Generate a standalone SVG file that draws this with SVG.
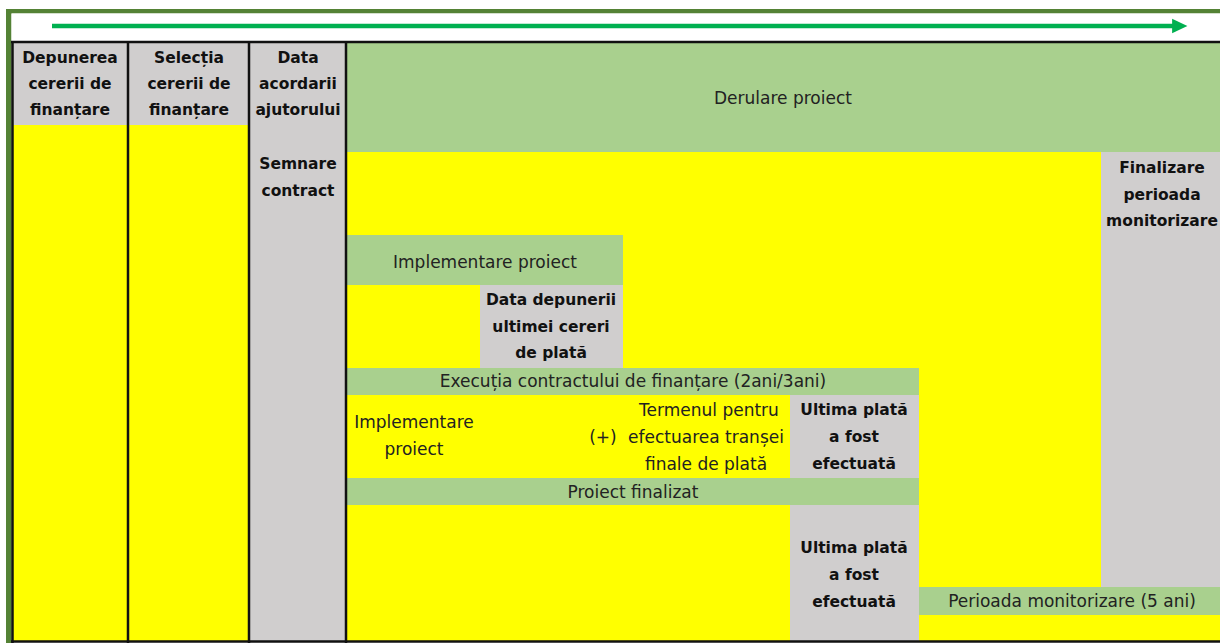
<svg xmlns="http://www.w3.org/2000/svg" width="1220" height="643" viewBox="0 0 1220 643">
<style>
.g{fill:#D0CECE}.y{fill:#FFFF00}.gr{fill:#A9D08E}
text{font-family:"DejaVu Sans",Verdana,sans-serif;text-anchor:middle}
.r{font-size:17px;fill:#222}
.b{font-size:15.5px;font-weight:bold;fill:#111}
.bl{stroke:#111;stroke-width:2.5}
</style>
<defs>
<marker id="ah" markerWidth="4" markerHeight="4" refX="0.2" refY="2" orient="auto" markerUnits="strokeWidth"><path d="M0,0.4 L3.4,2 L0,3.6 Z" fill="#00B050"/></marker>
</defs>
<rect width="1220" height="643" fill="#fff"/>
<rect x="6" y="9" width="1214" height="4.5" fill="#548235"/>
<rect x="6" y="9" width="5.5" height="634" fill="#548235"/>
<rect x="11.5" y="13.5" width="1208.5" height="28" fill="#fff"/>
<g id="col1">
<rect class="g" x="12" y="43" width="116" height="82"/>
<rect class="y" x="12" y="125" width="116" height="516"/>
<text class="b" x="70" y="63">Depunerea</text>
<text class="b" x="70" y="89">cererii de</text>
<text class="b" x="70" y="115">finanțare</text>
</g>
<g id="col2">
<rect class="g" x="128" y="43" width="121" height="82"/>
<rect class="y" x="128" y="125" width="121" height="516"/>
<text class="b" x="189" y="63">Selecția</text>
<text class="b" x="189" y="89">cererii de</text>
<text class="b" x="189" y="115">finanțare</text>
</g>
<g id="col3">
<rect class="g" x="249" y="43" width="97" height="598"/>
<text class="b" x="298" y="63">Data</text>
<text class="b" x="298" y="89">acordarii</text>
<text class="b" x="298" y="115">ajutorului</text>
<text class="b" x="298" y="169">Semnare</text>
<text class="b" x="298" y="196">contract</text>
</g>
<g id="base">
<rect class="y" x="346" y="152" width="755" height="489"/>
<rect class="y" x="919" y="615" width="301" height="26"/>
</g>
<g id="derulare">
<rect class="gr" x="346" y="43" width="874" height="109"/>
<text class="r" x="783" y="104">Derulare proiect</text>
</g>
<g id="finalizare">
<rect class="g" x="1101" y="152" width="119" height="435"/>
<text class="b" x="1162" y="173">Finalizare</text>
<text class="b" x="1162" y="200">perioada</text>
<text class="b" x="1162" y="226">monitorizare</text>
</g>
<g id="implementare1">
<rect class="gr" x="347" y="235" width="276" height="50"/>
<text class="r" x="485" y="268">Implementare proiect</text>
</g>
<g id="datadepunerii">
<rect class="g" x="480" y="285" width="143" height="83"/>
<text class="b" x="551" y="305">Data depunerii</text>
<text class="b" x="551" y="332">ultimei cereri</text>
<text class="b" x="551" y="358">de plată</text>
</g>
<g id="executia">
<rect class="gr" x="347" y="368" width="572" height="27"/>
<text class="r" x="633" y="387">Execuția contractului de finanțare (2ani/3ani)</text>
</g>
<g id="implementare2">
<text class="r" x="414" y="428">Implementare</text>
<text class="r" x="414" y="455">proiect</text>
</g>
<g id="termenul">
<text class="r" x="709" y="416">Termenul pentru</text>
<text class="r" x="603" y="443">(+)</text>
<text class="r" x="706" y="443">efectuarea tranșei</text>
<text class="r" x="706" y="470">finale de plată</text>
</g>
<g id="ultima1">
<rect class="g" x="790" y="395" width="129" height="83"/>
<text class="b" x="854" y="415">Ultima plată</text>
<text class="b" x="854" y="442">a fost</text>
<text class="b" x="854" y="469">efectuată</text>
</g>
<g id="finalizat">
<rect class="gr" x="347" y="478" width="572" height="27"/>
<text class="r" x="633" y="498">Proiect finalizat</text>
</g>
<g id="ultima2">
<rect class="g" x="790" y="505" width="129" height="136"/>
<text class="b" x="854" y="553">Ultima plată</text>
<text class="b" x="854" y="580">a fost</text>
<text class="b" x="854" y="607">efectuată</text>
</g>
<g id="perioada">
<rect class="gr" x="919" y="587" width="301" height="28"/>
<text class="r" x="1072" y="607">Perioada monitorizare (5 ani)</text>
</g>
<g id="grid">
<line class="bl" x1="11" y1="42" x2="1220" y2="42"/>
<line class="bl" x1="11" y1="641.5" x2="1220" y2="641.5"/>
<line class="bl" x1="12.5" y1="42" x2="12.5" y2="643"/>
<line class="bl" x1="128" y1="42" x2="128" y2="643"/>
<line class="bl" x1="249" y1="42" x2="249" y2="643"/>
<line class="bl" x1="346" y1="42" x2="346" y2="643"/>
</g>
<g id="connectors">
<line x1="52" y1="26" x2="1173" y2="26" stroke="#00B050" stroke-width="4.5" marker-end="url(#ah)"/>
</g>
</svg>
